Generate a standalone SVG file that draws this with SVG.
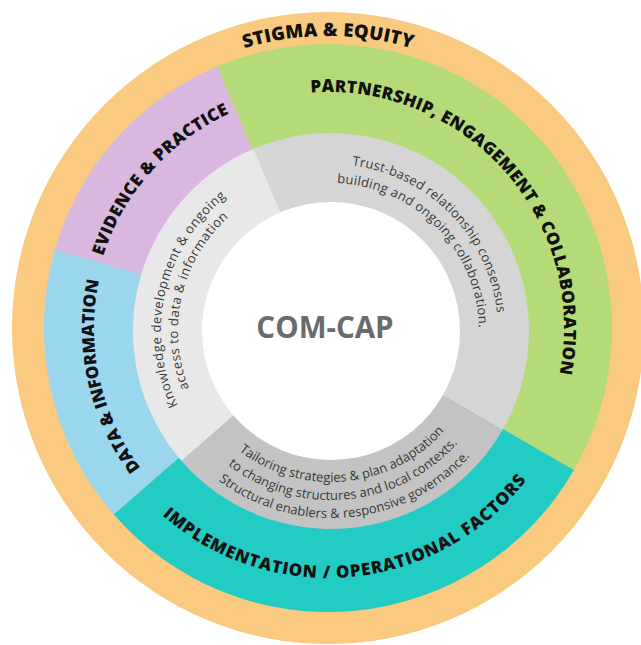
<svg xmlns="http://www.w3.org/2000/svg" width="641" height="645" viewBox="0 0 641 645">
  <style>
    .lbl { font-family: "Open Sans", "Liberation Sans", sans-serif; font-weight: 800; fill: #111111; }
    .sub { font-family: "Open Sans", "Liberation Sans", sans-serif; font-weight: 400; font-size: 13px; fill: #3a3a3a; }
    .ctr { font-family: "Open Sans", "Liberation Sans", sans-serif; font-weight: 700; font-size: 29.5px; fill: #6b6b6b; }
  </style>
  <defs>
    <path id="pStigma" d="M37.11,302.55 A292,292 0 0 1 618.89,302.55"/>
    <path id="pPartner" d="M187.63,138.28 A236,236 0 0 1 499.19,490.46"/>
    <path id="pEvidence" d="M156.81,490.46 A236,236 0 0 1 468.37,138.28"/>
    <path id="pData" d="M358.54,559.99 A234,234 0 0 1 257.64,104.83"/>
    <path id="pImpl" d="M82.19,373.56 A250,250 0 0 0 577.99,325.82"/>
    <path id="pR1" d="M224.77,202.14 A167,167 0 0 1 457.99,439.45"/>
    <path id="pR2" d="M236.86,216.8 A148,148 0 0 1 443.54,427.11"/>
    <path id="pL1" d="M278.47,492.69 A170,170 0 0 1 354.66,162.65"/>
    <path id="pL2" d="M283.72,476.52 A153,153 0 0 1 352.3,179.48"/>
    <path id="pB1" d="M182.52,358.51 A151,151 0 0 0 481.99,329.68"/>
    <path id="pB2" d="M164.82,361.79 A169,169 0 0 0 499.99,329.52"/>
    <path id="pB3" d="M147.12,365.07 A187,187 0 0 0 517.99,329.37"/>
  </defs>
  <rect width="641" height="645" fill="#ffffff"/>

  <g id="stigma-equity">
    <circle cx="328" cy="328" r="316" fill="#f9ca80"/>
    <text class="lbl" font-size="18.5" textLength="170"><textPath href="#pStigma" startOffset="50%" text-anchor="middle">STIGMA &amp; EQUITY</textPath></text>
  </g>

  <g id="partnership">
    <path d="M328,328 L217.04,66.58 A284,284 0 0 1 573.95,470 Z" fill="#b4db77"/>
  </g>
  <g id="implementation">
    <path d="M328,328 L573.95,470 A284,284 0 0 1 113.67,514.33 Z" fill="#22ccc4"/>
  </g>
  <g id="data-information">
    <path d="M328,328 L113.67,514.33 A284,284 0 0 1 55,249.73 Z" fill="#9ad6ee"/>
  </g>
  <g id="evidence-practice">
    <path d="M328,328 L55,249.73 A284,284 0 0 1 217.04,66.58 Z" fill="#d8b8de"/>
  </g>

  <g id="knowledge">
    <path d="M331,331 L181.57,460.91 A198,198 0 0 1 253.64,148.74 Z" fill="#e8e8e8"/>
  </g>
  <g id="trust">
    <path d="M331,331 L253.64,148.74 A198,198 0 0 1 502.47,430 Z" fill="#d5d5d5"/>
  </g>
  <g id="tailoring">
    <path d="M331,331 L502.47,430 A198,198 0 0 1 181.57,460.91 Z" fill="#c3c3c3"/>
  </g>

  <g id="com-cap">
    <circle cx="331" cy="331" r="129" fill="#ffffff"/>
    <text class="ctr" x="325" y="337.5" text-anchor="middle">COM-CAP</text>
  </g>

  <g id="labels">
    <text class="lbl" font-size="17" textLength="434"><textPath href="#pPartner" startOffset="50%" text-anchor="middle">PARTNERSHIP, ENGAGEMENT &amp; COLLABORATION</textPath></text>
    <text class="lbl" font-size="17" textLength="196"><textPath href="#pEvidence" startOffset="50%" text-anchor="middle">EVIDENCE &amp; PRACTICE</textPath></text>
    <text class="lbl" font-size="17" textLength="198"><textPath href="#pData" startOffset="50%" text-anchor="middle">DATA &amp; INFORMATION</textPath></text>
    <text class="lbl" font-size="17" textLength="410"><textPath href="#pImpl" startOffset="50%" text-anchor="middle">IMPLEMENTATION / OPERATIONAL FACTORS</textPath></text>

    <text class="sub" textLength="223"><textPath href="#pR1" startOffset="50%" text-anchor="middle">Trust-based relationship consensus</textPath></text>
    <text class="sub" textLength="223"><textPath href="#pR2" startOffset="50%" text-anchor="middle">building and ongoing collaboration.</textPath></text>
    <text class="sub" textLength="231"><textPath href="#pL1" startOffset="50%" text-anchor="middle">Knowledge development &amp; ongoing</textPath></text>
    <text class="sub" textLength="187"><textPath href="#pL2" startOffset="50%" text-anchor="middle">access to data &amp; information</textPath></text>
    <text class="sub" textLength="227"><textPath href="#pB1" startOffset="50%" text-anchor="middle">Tailoring strategies &amp; plan adaptation</textPath></text>
    <text class="sub" textLength="254"><textPath href="#pB2" startOffset="50%" text-anchor="middle">to changing structures and local contexts.</textPath></text>
    <text class="sub" textLength="277"><textPath href="#pB3" startOffset="50%" text-anchor="middle">Structural enablers &amp; responsive governance.</textPath></text>
  </g>
</svg>
